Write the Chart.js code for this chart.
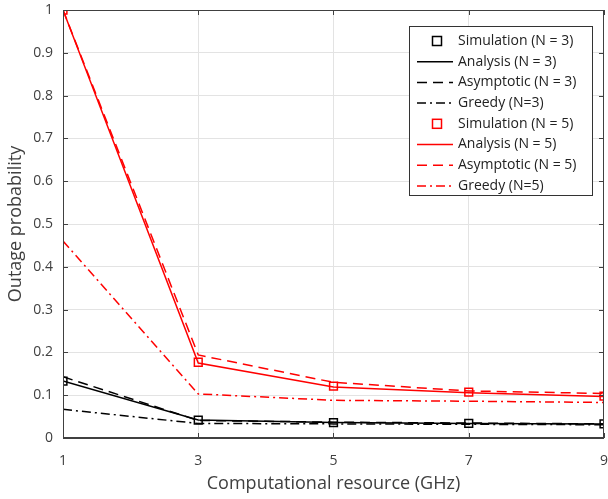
<!DOCTYPE html>
<html><head><meta charset="utf-8">
<script src="https://cdn.jsdelivr.net/npm/chart.js@4/dist/chart.umd.min.js"></script>
<style>html,body{margin:0;padding:0;background:#fff;overflow:hidden;width:608px;height:499px}canvas{display:block}</style>
</head><body>
<canvas id="c" width="623" height="499"></canvas>
<script>
const resources = [1, 3, 5, 7, 9];
const simN3 = [0.133, 0.042, 0.036, 0.034, 0.033];
const anaN3 = [0.133, 0.042, 0.036, 0.034, 0.033];
const asyN3 = [0.143, 0.041, 0.037, 0.035, 0.033];
const greN3 = [0.067, 0.034, 0.033, 0.032, 0.031];
const simN5 = [1.0, 0.177, 0.121, 0.107, 0.098];
const anaN5 = [1.0, 0.175, 0.119, 0.106, 0.097];
const asyN5 = [1.0, 0.194, 0.130, 0.110, 0.104];
const greN5 = [0.46, 0.103, 0.088, 0.086, 0.083];
const xTicks = [1, 3, 5, 7, 9];
const yTicks = [0, 0.1, 0.2, 0.3, 0.4, 0.5, 0.6, 0.7, 0.8, 0.9, 1];

const pts = arr => arr.map((v, i) => ({x: resources[i], y: v}));
const FONT = "'Open Sans', 'DejaVu Sans', sans-serif";

function sim(label, data, color) {
  return {label, data: pts(data), showLine: false, pointStyle: 'rect', pointRadius: 5.5,
    pointBorderWidth: 1.5, borderColor: color, backgroundColor: 'rgba(0,0,0,0)', kind: 'sim'};
}
function line(label, data, color, dash, kind) {
  return {label, data: pts(data), showLine: true, pointRadius: 0, borderWidth: 1.5,
    borderColor: color, borderDash: dash, backgroundColor: color, tension: 0, kind};
}

const datasets = [
  sim('Simulation (N = 3)', simN3, '#000'),
  line('Analysis (N = 3)', anaN3, '#000', [], 'line'),
  line('Asymptotic (N = 3)', asyN3, '#000', [10, 6], 'line'),
  line('Greedy (N=3)', greN3, '#000', [9, 4, 2, 4], 'line'),
  sim('Simulation (N = 5)', simN5, '#ff0000'),
  line('Analysis (N = 5)', anaN5, '#ff0000', [], 'line'),
  line('Asymptotic (N = 5)', asyN5, '#ff0000', [10, 6], 'line'),
  line('Greedy (N=5)', greN5, '#ff0000', [9, 4, 2, 4], 'line'),
];

const framePlugin = {
  id: 'frame',
  afterDatasetsDraw(chart) {
    const ctx = chart.ctx, a = chart.chartArea;
    const xs = chart.scales.x, ys = chart.scales.y;
    ctx.save();
    ctx.strokeStyle = '#404040';
    ctx.lineWidth = 1;
    ctx.setLineDash([]);
    ctx.strokeRect(Math.round(a.left) + 0.5, Math.round(a.top) + 0.5,
      Math.round(a.right - a.left) - 1, Math.round(a.bottom - a.top) - 1);
    const L = 5;
    ctx.beginPath();
    yTicks.forEach(v => {
      const y = Math.round(ys.getPixelForValue(v)) + 0.5;
      ctx.moveTo(a.left, y); ctx.lineTo(a.left + L, y);
      ctx.moveTo(a.right, y); ctx.lineTo(a.right - L, y);
    });
    xTicks.forEach(v => {
      const x = Math.round(xs.getPixelForValue(v)) + 0.5;
      ctx.moveTo(x, a.bottom); ctx.lineTo(x, a.bottom - L);
      ctx.moveTo(x, a.top); ctx.lineTo(x, a.top + L);
    });
    ctx.stroke();

    // legend
    const bx = 409.5, by = 26.5, bw = 183, bh = 169;
    ctx.fillStyle = '#fff';
    ctx.fillRect(bx, by, bw, bh);
    ctx.strokeStyle = '#333';
    ctx.strokeRect(bx, by, bw, bh);
    ctx.font = '14px ' + FONT;
    ctx.textBaseline = 'middle';
    ctx.textAlign = 'left';
    chart.data.datasets.forEach((ds, i) => {
      const cy = 41 + i * 20.7;
      ctx.strokeStyle = ds.borderColor;
      ctx.lineWidth = 1.5;
      if (ds.kind === 'sim') {
        ctx.setLineDash([]);
        ctx.strokeRect(432.5, cy - 4.5, 9, 9);
      } else {
        ctx.setLineDash(ds.borderDash || []);
        ctx.beginPath();
        ctx.moveTo(417, cy); ctx.lineTo(453, cy);
        ctx.stroke();
      }
      ctx.setLineDash([]);
      ctx.fillStyle = '#222';
      ctx.fillText(ds.label, 458, cy);
    });
    ctx.restore();
  }
};

new Chart(document.getElementById('c'), {
  type: 'scatter',
  data: {datasets},
  options: {
    responsive: false,
    animation: false,
    layout: {padding: {top: 10, right: 0, left: 0, bottom: 0}},
    plugins: {legend: {display: false}, tooltip: {enabled: false}},
    scales: {
      x: {
        type: 'linear', min: 1, max: 9,
        afterBuildTicks: s => { s.ticks = xTicks.map(v => ({value: v})); },
        afterFit: s => { s.height = 61; },
        grid: {color: '#e3e3e3', drawTicks: false, lineWidth: 1},
        border: {display: true, color: '#404040'},
        ticks: {padding: 15, color: '#404040', font: {family: FONT, size: 14}, maxRotation: 0},
        title: {display: true, text: 'Computational resource (GHz)', color: '#404040',
          font: {family: FONT, size: 18}, padding: {top: 0, bottom: 4}}
      },
      y: {
        type: 'linear', min: 0, max: 1,
        afterBuildTicks: s => { s.ticks = yTicks.map(v => ({value: v})); },
        afterFit: s => { s.width = 63; s.paddingTop = 0; s.paddingBottom = 0; },
        grid: {color: '#e3e3e3', drawTicks: false, lineWidth: 1},
        border: {display: true, color: '#404040'},
        ticks: {padding: 10, color: '#404040', font: {family: FONT, size: 14},
          callback: v => String(Math.round(v * 10) / 10)},
        title: {display: true, text: 'Outage probability', color: '#404040',
          font: {family: FONT, size: 18}, padding: {top: 5, bottom: 0}}
      }
    }
  },
  plugins: [framePlugin]
});
</script>
</body></html>
